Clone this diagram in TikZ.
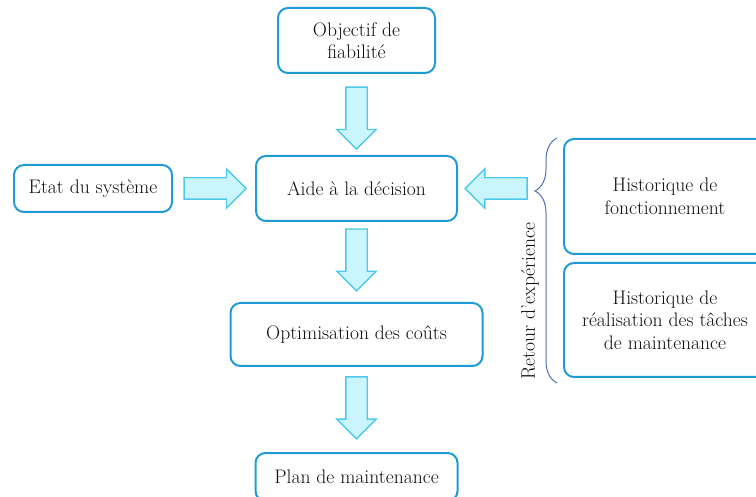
\documentclass[tikz,border=0pt]{standalone}
\usepackage{fontspec}
\usetikzlibrary{positioning, shapes.arrows, decorations.pathreplacing}

\definecolor{boxblue}{RGB}{30,155,215}
\definecolor{arrowedge}{RGB}{80,200,235}
\definecolor{arrowfill}{RGB}{202,245,252}
\definecolor{braceblue}{RGB}{75,115,175}
\definecolor{textdark}{RGB}{15,15,15}

\begin{document}
\begin{tikzpicture}[
    x=1pt, y=-1pt,
    font=\fontsize{19.6}{22.5}\selectfont,
    every node/.style={text=textdark},
    box/.style={
        draw=boxblue, line width=2pt, rounded corners=10pt,
        align=center, outer sep=0pt, inner sep=2pt
    },
    blockarrow/.style={
        single arrow, draw=arrowedge, fill=arrowfill, line width=1.4pt,
        minimum height=62pt, inner sep=10pt, outer sep=0pt,
        single arrow head extend=9pt,
        sloped, allow upside down
    },
    bracestyle/.style={
        draw=braceblue, line width=1pt, decorate,
        decoration={brace, amplitude=22pt, aspect=0.784}
    }
]
\useasboundingbox (0,0) rectangle (756,497);

% --- central column ---
\node[box, minimum width=201pt, minimum height=65pt] (aide) at (356.5,188.5) {Aide à la décision};
\node[box, minimum width=157pt, minimum height=65pt, above=83pt of aide] (objectif) {Objectif de\\fiabilité};
\node[box, minimum width=252pt, minimum height=63pt, below=82pt of aide] (optim) {Optimisation des coûts};
\node[box, minimum width=202pt, minimum height=48pt, below=87pt of optim] (plan) {Plan de maintenance};

% --- left input ---
\node[box, minimum width=158pt, minimum height=47pt, left=84pt of aide] (etat) {Etat du système};

% --- feedback boxes on the right ---
\node[box, minimum width=202pt, minimum height=115pt] (histfonc) at (665,196.5) {Historique de\\fonctionnement};
\node[box, minimum width=202pt, minimum height=114pt, below=9pt of histfonc] (histreal) {Historique de\\réalisation des tâches\\de maintenance};

% brace grouping both histories
\coordinate (brbot) at (557,383);
\coordinate (brtop) at (557,138);
\coordinate (brtip) at (533,188.5);
\draw[bracestyle] (brbot) -- (brtop);
\node[rotate=90] (retour) at (530,301) {Retour d’expérience};

% --- block arrows ---
\path (objectif) -- node[blockarrow, pos=0.48]{} (aide);
\path (aide) -- node[blockarrow, pos=0.41]{} (optim);
\path (optim) -- node[blockarrow, pos=0.42]{} (plan);
\path (etat) -- node[blockarrow, pos=0.45]{} (aide);
\path (brtip) -- node[blockarrow, pos=0.415]{} (aide);

\end{tikzpicture}
\end{document}
